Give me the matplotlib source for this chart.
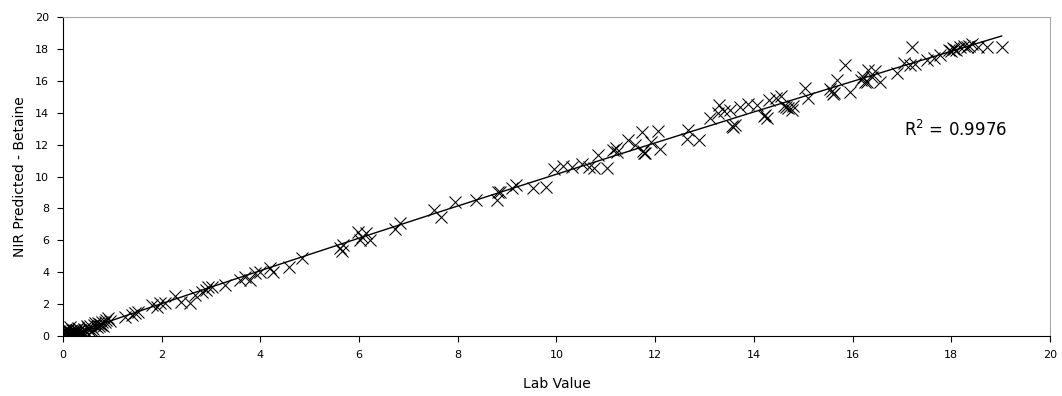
import numpy as np
import matplotlib
matplotlib.use("Agg")
import matplotlib.pyplot as plt

# Lab values (x) and NIR predicted betaine (y)
lab_cluster = [0.05, 0.08, 0.10, 0.10, 0.12, 0.15, 0.15, 0.18, 0.20, 0.20, 0.22, 0.25, 0.25, 0.28,
               0.30, 0.30, 0.32, 0.35, 0.38, 0.40, 0.42, 0.45, 0.50, 0.52, 0.55, 0.60, 0.62, 0.65,
               0.70, 0.72, 0.75, 0.80, 0.82, 0.85, 0.88, 0.92, 0.95, 0.12, 0.18, 0.05,
               0.07, 0.14, 0.22, 0.27, 0.33, 0.36, 0.44, 0.48, 0.58, 0.68, 0.78, 0.03]
nir_cluster = [0.10, 0.00, 0.20, 0.35, 0.05, 0.30, 0.10, 0.40, 0.20, 0.05, 0.35, 0.10, 0.25, 0.00,
               0.30, 0.50, 0.15, 0.40, 0.25, 0.10, 0.45, 0.30, 0.50, 0.35, 0.60, 0.45, 0.70, 0.80,
               0.80, 0.60, 0.75, 0.90, 0.65, 0.85, 1.00, 1.10, 0.95, 0.15, 0.00, 0.25,
               0.45, 0.55, 0.15, 0.40, 0.05, 0.20, 0.15, 0.65, 0.30, 0.55, 0.70, 0.30]

lab_main = [1.26, 1.39, 1.45, 1.53, 1.80, 1.90, 1.97, 2.07, 2.27, 2.40, 2.57, 2.67, 2.81, 2.94, 2.90,
            3.01, 3.28, 3.59, 3.69, 3.79, 3.89, 3.99, 4.19, 4.26, 4.57, 4.85, 5.61, 5.68, 5.65, 5.98,
            6.05, 6.02, 6.15, 6.22, 6.73, 6.83, 7.52, 7.67, 7.94, 8.36, 8.79, 8.82, 9.10, 9.17, 9.53,
            9.79, 9.95, 10.14, 10.31, 10.51, 10.66, 10.75, 10.85, 11.02, 11.14, 11.20, 11.22, 11.45,
            11.60, 11.73, 11.76, 11.79, 11.92, 12.06, 12.10, 12.64, 12.67, 12.89, 13.12, 13.28, 13.30,
            13.40, 13.52, 13.58, 13.62, 13.72, 13.89, 14.06, 14.23, 14.26, 14.30, 14.45, 14.55, 14.60,
            14.70, 14.80, 14.77, 15.04, 15.10, 15.55, 15.62, 15.68, 15.85, 15.95, 16.18, 16.22, 16.29,
            16.32, 16.39, 16.45, 16.55, 16.89, 17.05, 17.16, 17.20, 17.26, 17.50, 17.65, 17.77, 18.04,
            18.10, 18.18, 18.31, 18.41, 18.55, 18.72, 19.02, 18.00, 18.25,
            13.55, 14.20, 15.60, 15.58, 11.78, 8.85, 14.65, 16.25, 18.05, 18.35, 17.95]
nir_main = [1.21, 1.32, 1.42, 1.52, 1.94, 1.84, 2.05, 2.05, 2.50, 2.15, 2.05, 2.57, 2.78, 3.09, 2.90,
            3.05, 3.20, 3.51, 3.72, 3.51, 3.93, 4.03, 4.24, 4.03, 4.34, 4.87, 5.50, 5.71, 5.35, 6.50,
            6.23, 6.02, 6.44, 6.02, 6.70, 7.07, 7.90, 7.48, 8.42, 8.53, 8.53, 9.05, 9.26, 9.47, 9.26,
            9.36, 10.45, 10.66, 10.61, 10.80, 10.61, 10.51, 11.35, 10.51, 11.66, 11.80, 11.55, 12.29,
            12.00, 12.81, 11.60, 11.45, 12.18, 12.85, 11.70, 12.35, 12.92, 12.29, 13.70, 13.96, 14.48,
            14.10, 14.17, 13.10, 13.25, 14.38, 14.55, 14.48, 13.86, 13.70, 14.80, 14.90, 15.05, 14.45,
            14.30, 14.45, 14.17, 15.58, 14.90, 15.50, 15.25, 16.05, 17.00, 15.30, 16.05, 16.26, 15.95,
            16.68, 16.26, 16.60, 15.95, 16.52, 17.10, 17.00, 18.14, 17.05, 17.31, 17.40, 17.62, 18.04,
            17.95, 18.14, 18.10, 18.30, 18.14, 18.10, 18.14, 17.90, 18.20,
            13.15, 13.80, 15.20, 15.35, 11.50, 9.00, 14.35, 15.90, 18.00, 18.20, 17.95]

r2_label = "R$^2$ = 0.9976"
x_ticks = list(range(0, 21, 2))
y_ticks = list(range(0, 21, 2))

lab = np.array(lab_cluster + lab_main)
nir = np.array(nir_cluster + nir_main)

fig = plt.figure(figsize=(10.62, 3.96), dpi=100)
ax = fig.add_axes([0.0593, 0.1515, 0.9294, 0.8055])

ax.scatter(lab, nir, marker="x", s=75, c="black", linewidths=0.75, zorder=3)

coef = np.polyfit(lab, nir, 2)
xs = np.linspace(lab.min(), lab.max(), 200)
ax.plot(xs, np.polyval(coef, xs), color="black", lw=1.0, zorder=4)

ax.set_xlim(0, 20)
ax.set_ylim(0, 20)
ax.set_xticks(x_ticks)
ax.set_yticks(y_ticks)
ax.tick_params(direction="out", length=4, width=0.8, labelsize=8, colors="black", pad=6)
for s in ("top", "right"):
    ax.spines[s].set_color("#a6a6a6")
for s in ("left", "bottom"):
    ax.spines[s].set_color("black")
ax.set_xlabel("Lab Value", fontsize=10, labelpad=12)
ax.set_ylabel("NIR Predicted - Betaine", fontsize=10, labelpad=6)
ax.text(17.05, 12.9, r2_label, fontsize=12, va="center", ha="left")

fig.savefig("out.png", dpi=100)
